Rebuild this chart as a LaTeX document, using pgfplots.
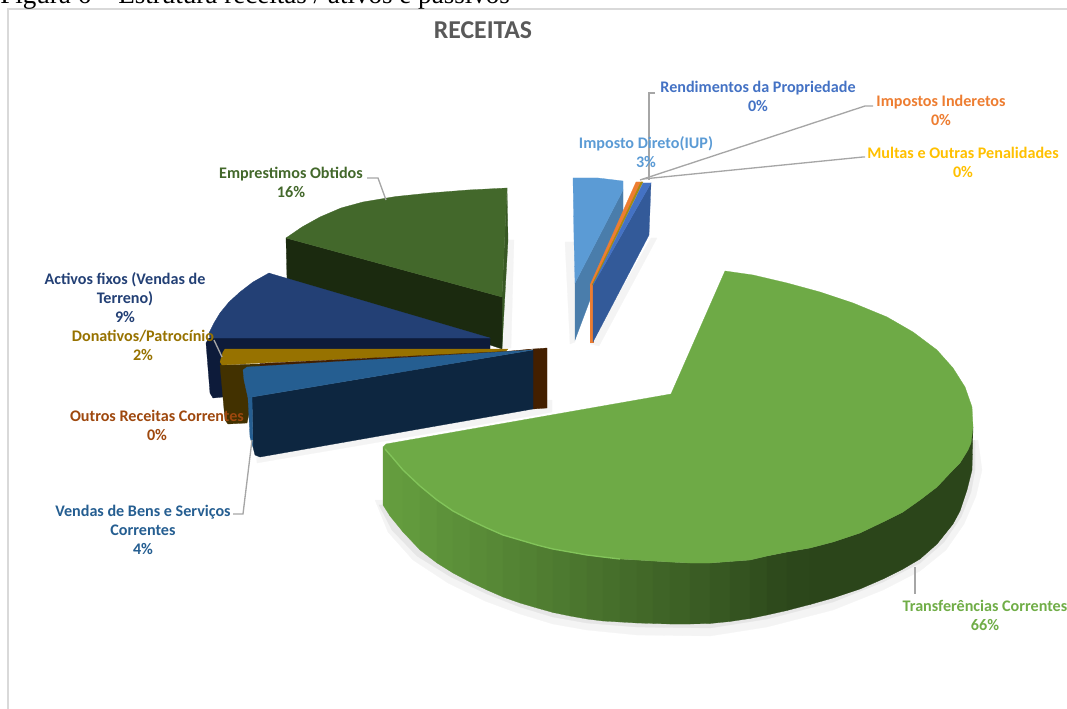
\documentclass[border=0pt]{standalone}
\usepackage{fontspec}
\setmainfont{Carlito}
\newfontfamily\tnr{Liberation Serif}
\usepackage{pgfplots}
\pgfplotsset{compat=1.18}
\definecolor{gTop}{HTML}{6EAA46}
\definecolor{gRim}{HTML}{82C45A}
\definecolor{gA}{HTML}{659E3F}
\definecolor{gB}{HTML}{2B451A}
\definecolor{eTop}{HTML}{43682B}
\definecolor{eCut}{HTML}{1B2A0F}
\definecolor{eEdge}{HTML}{385824}
\definecolor{aTop}{HTML}{234075}
\definecolor{aCut}{HTML}{0D1B3A}
\definecolor{dTop}{HTML}{977200}
\definecolor{dCut}{HTML}{423100}
\definecolor{oCut}{HTML}{431F00}
\definecolor{vTop}{HTML}{255E91}
\definecolor{vCut}{HTML}{0D2640}
\definecolor{iTop}{HTML}{5B9BD5}
\definecolor{iCut}{HTML}{4A7DAB}
\definecolor{orTop}{HTML}{ED7D31}
\definecolor{goTop}{HTML}{A58A10}
\definecolor{rTop}{HTML}{4472C4}
\definecolor{rCut}{HTML}{335A99}
\definecolor{lead}{HTML}{A6A6A6}
\definecolor{shad}{HTML}{E6E6E6}
\definecolor{shadb}{HTML}{F4F4F4}
\definecolor{fr}{HTML}{D9D9D9}
\definecolor{tit}{HTML}{595959}
\definecolor{mu}{HTML}{FFC000}
\definecolor{ou}{HTML}{9E480E}
\definecolor{tr}{HTML}{70AD47}
\newcommand{\poly}[2]{\addplot[fill=#1,draw=#1,line width=0.2pt] coordinates {#2} -- cycle;}
\newcommand{\st}[7]{\addplot[fill=gA!#1!gB,draw=gA!#1!gB,line width=0.15pt] coordinates {(#2,#3)(#5,#6)(#5,#7)(#2,#4)} -- cycle;}
\newcommand{\lnk}[1]{\addplot[lead,line width=1pt] coordinates {#1};}
\newcommand{\lab}[4]{\node[font=\bfseries\fontsize{12.1}{14.25}\selectfont,text=#1,align=center,anchor=center,inner sep=0pt] at (axis cs:#2,#3) {#4};}
\begin{document}
\begin{tikzpicture}
\useasboundingbox (0,0) rectangle (800.25pt,531.75pt);
\begin{axis}[at={(0,0)},anchor=south west,scale only axis,width=800.25pt,height=531.75pt,
  xmin=0,xmax=1067,ymin=0,ymax=709,y dir=reverse,hide axis,clip=true]
% frame
\addplot[fr,line width=0.9pt] coordinates {(8,709)(8,9)(1067,9)};
% shadows
\poly{shadb}{(375,500)(388,532)(413,560)(448,583)(485,601)(520,614)(553,624)(587,630)(637,635)(710,636)(767,627)(833,610)(883,590)(920,571)(946,550)(964,524)(976,496)(982,470)(978,440)(700,500)}
\poly{shad}{(379,505)(392,530)(417,556)(451,577)(487,594)(520,607)(553,617)(587,623)(637,627)(710,628)(767,619)(833,602)(883,582)(920,563)(944,542)(961,517)(971,492)(975,470)(975,440)(700,500)}
\poly{shadb}{(257,463)(537,415)(552,412)(552,400)(520,400)(256,450)}
\poly{shadb}{(507,240)(514,240)(511,348)(503,348)}
\poly{shadb}{(565,242)(575,242)(575,342)(570,344)}
\poly{shadb}{(651,238)(657,238)(599,346)(590,344)}
% Emprestimos
\poly{eEdge}{(507,188)(508,240)(502,348)(502,297)}
\poly{eCut}{(286,238)(502,297)(502,349)(490,345)(287,280)}
\poly{eTop}{(286,238)(302,227)(320,217)(341,208)(363,202)(396,196.5)(430,193)(468,190)(507,188)(502,297)}
% Activos
\poly{aCut}{(209,338)(490,338)(490,350)(225,350)(223,397)(213,398)(210,393)(206,343)}
\poly{aTop}{(269,273)(253,282)(240,292)(229,302)(220,313)(214,323)(209,333)(210,338)(490,338)(272,274)}
% Donativos
\poly{dCut}{(220,365)(260,364)(247,423)(228,424)(225,420)}
\poly{dTop}{(220,362)(223,352)(225,349)(508,349)(505,352)(260,363)(222,365)}
% Outros
\poly{oCut}{(533,349)(547,348)(547,408)(533,409)}
\poly{oCut}{(260,363.5)(505,351.5)(533,349)(400,372)(258,372)}
% Vendas
\poly{vCut}{(252,397)(533,350)(533,409)(260,457)(255,455)(253,447)}
\poly{vTop}{(243,370)(247,367)(533,350)(252,397)(248,398)(244,380)}
\poly{vTop}{(248,398)(252,397)(253,447)(250,437)}
% Imposto direto
\poly{iCut}{(623,190)(623,212)(575,340)(575,283)}
\poly{iTop}{(573,178)(598,178)(623,181)(623,190)(575,283)(574,240)}
% 0% slices
\poly{orTop}{(590,285)(593,285)(593,342)(590,342)}
\poly{orTop}{(636,182)(642,182)(592,285)(590,285)}
\poly{goTop}{(641,182)(643,182)(593,285)(592,285)}
\poly{rCut}{(651,183)(649,235)(593,342)(593,285)}
\poly{rTop}{(643,183)(651,183)(593,285)}
% Transferencias - side
\st{100}{383}{447}{505}{390}{455}{516}
\st{98}{390}{455}{516}{403}{470}{532}
\st{95}{403}{470}{532}{420}{486}{550}
\st{91}{420}{486}{550}{437}{500}{563}
\st{87}{437}{500}{563}{453}{511}{573}
\st{83}{453}{511}{573}{470}{520}{582}
\st{79}{470}{520}{582}{487}{528}{590}
\st{75}{487}{528}{590}{503}{535}{597}
\st{71}{503}{535}{597}{520}{540}{603}
\st{67}{520}{540}{603}{537}{545}{608}
\st{63}{537}{545}{608}{553}{549}{612.5}
\st{59}{553}{549}{612.5}{570}{552}{616}
\st{55}{570}{552}{616}{587}{555}{619}
\st{51}{587}{555}{619}{603}{557}{621}
\st{47}{603}{557}{621}{620}{559}{622}
\st{43}{620}{559}{622}{637}{560}{623}
\st{39}{637}{560}{623}{653}{561}{623.5}
\st{35}{653}{561}{623.5}{670}{562}{624}
\st{31}{670}{562}{624}{690}{563}{624}
\st{26}{690}{563}{624}{710}{563}{623.5}
\st{21}{710}{563}{623.5}{730}{561.5}{621.5}
\st{16}{730}{561.5}{621.5}{750}{560}{618.5}
\st{11}{750}{560}{618.5}{767}{556}{615}
\st{6}{767}{556}{615}{787}{552}{610.5}
\st{2}{787}{552}{610.5}{810}{548}{604.5}
\poly{gB}{(810,548)(833,542)(860,533)(883,522)(903,512)(920,500)(937,487)(953,470)(960,463)(968,450)(973,427)(972,470)(967,490)(960,511)(953,524)(937,544)(920,559)(903,569)(883,579)(860,589)(833,598)(810,604.5)}
% Transferencias - top
\poly{gTop}{(671,394)(725,271)(753,275)(787,283)(820,292)(853,303)(887,317)(913,332)(937,350)(953,368)(965,387)(972,407)(973,427)(971,443)(968,450)(960,463)(953,470)(937,487)(920,500)(903,512)(883,522)(860,533)(833,542)(810,548)(787,552)(767,556)(750,560)(730,561.5)(710,563)(690,563)(670,562)(653,561)(637,560)(620,559)(603,557)(587,555)(570,552)(553,549)(537,545)(520,540)(503,535)(487,528)(470,520)(453,511)(437,500)(420,486)(403,470)(390,455)(383,447)(386,444)}
\addplot[gRim,line width=1pt] coordinates {(385,449)(392,457)(403,470)(420,486)(437,500)(453,511)(470,520)(487,528)(503,535)(520,540)(537,545)(553,549)(570,552)(587,555)(603,557)(620,559)};
% leaders
\lnk{(649,180)(649,93)(655,93)}
\lnk{(640,180)(865,106)(873,106)}
\lnk{(643,179)(863,157)(865,157)}
\lnk{(386,200)(378,178)(367,178)}
\lnk{(214,340)(222,357)}
\lnk{(252,440)(243,514)(233,514)}
\lnk{(915,567)(915,594)}
% labels
\lab{rTop}{758}{96.5}{Rendimentos da Propriedade\\0\%}
\lab{orTop}{941}{110.5}{Impostos Inderetos\\0\%}
\lab{mu}{963}{162.5}{Multas e Outras Penalidades\\0\%}
\lab{iTop}{646}{152.5}{Imposto Direto(IUP)\\3\%}
\lab{eTop}{291}{182.5}{Emprestimos Obtidos\\16\%}
\lab{aTop}{125}{298}{Activos fixos (Vendas de\\Terreno)\\9\%}
\lab{dTop}{143}{345.5}{Donativos/Patrocínio\\2\%}
\lab{ou}{157}{425}{Outros Receitas Correntes\\0\%}
\lab{vTop}{143}{530}{Vendas de Bens e Serviços\\Correntes\\4\%}
\lab{tr}{985}{615}{Transferências Correntes\\66\%}
\node[font=\bfseries\fontsize{19.3}{21}\selectfont,text=tit,inner sep=0pt] at (axis cs:483,30) {RECEITAS};
\node[font=\tnr\fontsize{20.3}{22}\selectfont,anchor=base west,inner sep=0pt,text=black] at (axis cs:0,4) {Figura 6 – Estrutura receitas / ativos e passivos};
\end{axis}
\end{tikzpicture}
\end{document}
